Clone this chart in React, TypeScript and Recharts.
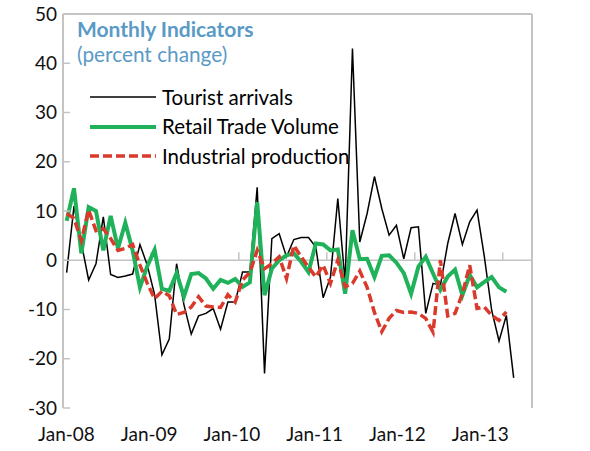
import React from 'react';
import { LineChart, Line, XAxis, YAxis, ReferenceLine, Legend } from 'recharts';

// months on the category axis (Jan-08 .. Apr-13)
const YEARS = ['08', '09', '10', '11', '12', '13'];
const MONTH_NAMES = ['Jan', 'Feb', 'Mar', 'Apr', 'May', 'Jun', 'Jul', 'Aug', 'Sep', 'Oct', 'Nov', 'Dec'];
const months = YEARS.flatMap((y) => MONTH_NAMES.map((m) => `${m}-${y}`)).slice(0, 64);

const yTicks = [-30, -20, -10, 0, 10, 20, 30, 40, 50];
const yearStarts = [0, 12, 24, 36, 48, 60];
const yearLabels = ['Jan-08', 'Jan-09', 'Jan-10', 'Jan-11', 'Jan-12', 'Jan-13'];

const touristArrivals = [
  -2.5, 11, 3.5, -4, -0.7, 8.8, -2.9, -3.5, -3.2, -2.8, 3.2, -1,
  -7, -19.2, -16, -0.7, -9, -15, -11.3, -10.8, -9.8, -14, -8.5, -8.5,
  -2.4, -2.4, 14.8, -23, 4.4, 5.4, 0.7, 4.2, 4.6, 4.6, 2.7, -7.6,
  -3.4, 12.5, -4.4, 43, 3.7, 9.5, 17, 10.5, 5.1, 7.1, 0.3, 6.6,
  6.8, -10.8, -4.7, -5.1, 3.4, 9.5, 3.2, 7.8, 10.2, 0.7, -10.2, -16.4,
  -11.2, -23.9,
];

const retailTradeVolume = [
  8, 14.6, 1.4, 10.8, 10, 2, 9, 2.4, 7.6, 2, -5.5, -1.2,
  2.1, -5.8, -6.2, -2.6, -7.4, -2.8, -2.6, -3.7, -5.8, -4, -4.6, -3.8,
  -5.4, -4.5, 11.8, -7.1, -1.7, 0, 1, 1.4, -0.3, -2.4, 3.4, 3.2,
  2, 2.2, -6.8, 6.1, 0.2, 0.3, -3.4, 0.9, 1, -0.5, -2.6, -6.8,
  -1.3, 0.7, -2.7, -6, -3.3, -1.9, -7.1, -3, -5.5, -4.4, -3.4, -5.5,
  -6.4,
];

const industrialProduction = [
  9.5, 8.5, 4, 10.2, 6, 6.4, 4.4, 2, 2.4, 3.2, -1, -4.7,
  -7.8, -6.3, -7.2, -11, -10.6, -9.5, -7.4, -9.3, -9.5, -9.6, -7, -8.5,
  -4, -2.5, 2, -1.7, -0.7, 0.7, -3.7, 3, 0.7, -1.4, -3.4, -1,
  -4.7, 0, -5.4, -4.7, -2.2, -5.5, -10.6, -14.5, -11.8, -10.2, -10.6, -10.5,
  -10.8, -11.8, -14.6, 0, -11.3, -10.8, -6.8, -1, -9.8, -9.5, -11.2, -12.2,
  -10.5,
];

const SERIES = [
  { key: 'tourist', name: 'Tourist arrivals', color: '#000000', width: 1.5, dash: undefined as string | undefined },
  { key: 'retail', name: 'Retail Trade Volume', color: '#1fb25a', width: 4, dash: undefined as string | undefined },
  { key: 'industrial', name: 'Industrial production', color: '#d93a2b', width: 3.5, dash: '9 4' },
];

const data = months.map((m, i) => ({
  x: i + 0.5,
  month: m,
  tourist: touristArrivals[i] ?? null,
  retail: retailTradeVolume[i] ?? null,
  industrial: industrialProduction[i] ?? null,
}));

const FONT = 'Lato, "Open Sans", sans-serif';
const TITLE_COLOR = '#5a9ac6';
const AXIS_COLOR = '#c4c4c4';

const renderLegend = () => (
  <div style={{ position: 'relative', width: 420, height: 180, fontFamily: FONT }}>
    <div style={{ position: 'absolute', left: 77, top: 16, fontSize: 21, lineHeight: 1.2, fontWeight: 700, color: TITLE_COLOR, whiteSpace: 'nowrap' }}>
      Monthly Indicators
    </div>
    <div style={{ position: 'absolute', left: 77, top: 42, fontSize: 20.8, lineHeight: 1.2, color: TITLE_COLOR, whiteSpace: 'nowrap' }}>
      (percent change)
    </div>
    {SERIES.map((s, i) => (
      <div key={s.key} style={{ position: 'absolute', left: 90, top: 85 + i * 29.5, height: 24, display: 'flex', alignItems: 'center' }}>
        <svg width={66} height={10} style={{ display: 'block' }}>
          <line x1={0} y1={5} x2={66} y2={5} stroke={s.color} strokeWidth={s.width} strokeDasharray={s.dash} />
        </svg>
        <span style={{ marginLeft: 6, fontSize: 20.5, lineHeight: 1.2, color: '#000', whiteSpace: 'nowrap' }}>{s.name}</span>
      </div>
    ))}
  </div>
);

export default function App() {
  const tickStyle = { fontFamily: FONT, fontSize: 19, fill: '#111' };
  return (
    <div style={{ position: 'absolute', left: 0, top: 0, width: 590, height: 451, background: '#fff' }}>
      <LineChart width={590} height={451} data={data} margin={{ top: 14, right: 0, bottom: 0, left: 0 }}>
        <XAxis
          xAxisId="data"
          dataKey="x"
          type="number"
          domain={[0, 64]}
          ticks={[]}
          height={0}
          tick={false}
          tickLine={false}
          axisLine={{ stroke: AXIS_COLOR, strokeWidth: 2 }}
        />
        {/* labels are spread slightly tighter than the monthly slots, as in the source */}
        <XAxis
          xAxisId="labels"
          dataKey="x"
          type="number"
          domain={[0, 68]}
          allowDataOverflow
          ticks={yearStarts.map((i) => i + 0.5)}
          tickFormatter={(v: number) => yearLabels[Math.floor(v / 12)]}
          height={43}
          tickLine={false}
          tickSize={0}
          tickMargin={20}
          axisLine={false}
          tick={tickStyle}
          interval={0}
        />
        <YAxis
          yAxisId="left"
          orientation="left"
          domain={[-30, 50]}
          ticks={yTicks}
          width={63}
          tickSize={-7}
          tickMargin={13}
          axisLine={{ stroke: AXIS_COLOR, strokeWidth: 2 }}
          tickLine={{ stroke: AXIS_COLOR, strokeWidth: 1.5 }}
          tick={tickStyle}
          interval={0}
        />
        <YAxis
          yAxisId="right"
          orientation="right"
          domain={[-30, 50]}
          ticks={yTicks}
          width={58}
          tickSize={-7}
          tickMargin={48}
          axisLine={{ stroke: AXIS_COLOR, strokeWidth: 2 }}
          tickLine={{ stroke: AXIS_COLOR, strokeWidth: 1.5 }}
          tick={{ ...tickStyle, textAnchor: 'end' }}
          interval={0}
        />
        <ReferenceLine xAxisId="data" yAxisId="left" y={50} stroke={AXIS_COLOR} strokeWidth={2} />
        <ReferenceLine xAxisId="data" yAxisId="left" y={0} stroke={AXIS_COLOR} strokeWidth={1.5} />
        {yearStarts.slice(1).map((b) => (
          <ReferenceLine
            key={b}
            xAxisId="data"
            yAxisId="left"
            segment={[{ x: b, y: 0 }, { x: b, y: 1.6 }]}
            stroke={AXIS_COLOR}
            strokeWidth={1.5}
          />
        ))}
        <Legend
          layout="vertical"
          align="center"
          verticalAlign="middle"
          content={renderLegend}
          wrapperStyle={{ position: 'absolute', left: 0, top: 0, width: 420, height: 180 }}
        />
        {SERIES.map((s) => (
          <Line
            key={s.key}
            xAxisId="data"
            yAxisId="left"
            type="linear"
            dataKey={s.key}
            name={s.name}
            stroke={s.color}
            strokeWidth={s.width}
            strokeDasharray={s.dash}
            dot={false}
            activeDot={false}
            isAnimationActive={false}
          />
        ))}
      </LineChart>
    </div>
  );
}
